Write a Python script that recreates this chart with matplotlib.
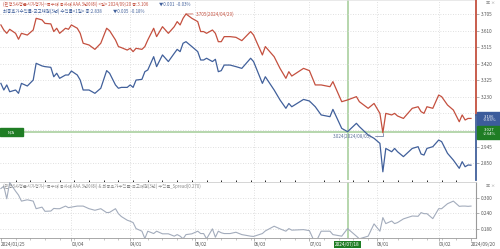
import matplotlib
matplotlib.use("Agg")
import matplotlib.pyplot as plt
from matplotlib.patches import Rectangle
from matplotlib.ticker import MultipleLocator
import numpy as np

plt.rcParams['font.family'] = ['Noto Sans CJK KR', 'DejaVu Sans']

# ---------------- data (trading-day index from 2024/01/25) ----------------
days = [0, 1, 2, 3, 5, 6, 7, 9, 11, 12, 14, 15, 17, 18, 19, 20, 22, 23, 24, 26,
        27, 28, 30, 32, 34, 36, 37, 39, 40, 41, 43, 44, 45, 46, 48, 49, 50, 52, 53, 55,
        57, 59, 60, 61, 62, 63, 65, 67, 68, 69, 70, 72, 73, 74, 75, 76, 78, 80, 82, 85,
        86, 89, 90, 93, 95, 97, 98, 99, 103, 105, 107, 109, 112, 113, 116, 118, 121, 122, 125, 127,
        129, 130, 131, 133, 134, 135, 137, 140, 142, 143, 144, 145, 147, 149, 150, 152, 154, 156, 157, 158,
        159, 160]
red = [3.642, 3.613, 3.594, 3.617, 3.594, 3.560, 3.594, 3.584, 3.613, 3.680, 3.671, 3.651, 3.648, 3.604, 3.623, 3.594, 3.623, 3.617, 3.642, 3.623,
       3.594, 3.537, 3.527, 3.502, 3.537, 3.623, 3.609, 3.556, 3.518, 3.512, 3.498, 3.508, 3.489, 3.508, 3.502, 3.518, 3.556, 3.623, 3.575, 3.632,
       3.594, 3.632, 3.661, 3.642, 3.680, 3.705, 3.680, 3.661, 3.604, 3.604, 3.594, 3.613, 3.594, 3.546, 3.546, 3.575, 3.575, 3.571, 3.552, 3.604,
       3.584, 3.470, 3.518, 3.460, 3.393, 3.336, 3.374, 3.349, 3.393, 3.380, 3.298, 3.298, 3.288, 3.317, 3.202, 3.212, 3.231, 3.202, 3.164, 3.192,
       3.135, 3.024, 3.135, 3.126, 3.135, 3.120, 3.106, 3.164, 3.173, 3.145, 3.135, 3.173, 3.164, 3.240, 3.231, 3.183, 3.154, 3.087, 3.126, 3.097,
       3.106, 3.106]
blue = [3.307, 3.269, 3.298, 3.259, 3.269, 3.250, 3.307, 3.292, 3.326, 3.422, 3.407, 3.403, 3.399, 3.345, 3.365, 3.336, 3.355, 3.355, 3.378, 3.355,
        3.326, 3.269, 3.269, 3.250, 3.279, 3.380, 3.365, 3.298, 3.279, 3.284, 3.284, 3.298, 3.284, 3.326, 3.330, 3.374, 3.384, 3.460, 3.403, 3.470,
        3.432, 3.479, 3.502, 3.489, 3.537, 3.546, 3.518, 3.489, 3.441, 3.441, 3.451, 3.432, 3.445, 3.374, 3.380, 3.412, 3.412, 3.403, 3.393, 3.451,
        3.432, 3.307, 3.345, 3.269, 3.212, 3.164, 3.192, 3.173, 3.215, 3.206, 3.173, 3.126, 3.116, 3.158, 3.049, 3.030, 3.078, 3.059, 3.011, 2.992,
        2.963, 2.800, 2.934, 2.915, 2.934, 2.915, 2.887, 2.934, 2.944, 2.902, 2.896, 2.934, 2.944, 2.982, 2.973, 2.906, 2.867, 2.820, 2.858, 2.829,
        2.839, 2.838]
spread = np.round(np.array(red) - np.array(blue), 3)

tick_days = [0, 24, 44, 66, 86, 105, 128, 149, 160]
tick_labels = ['2024/01/25', '03/04', '04/01', '05/02', '06/03', '07/01', '08/01', '09/02', '2024/09/20']
main_yticks = [3.705, 3.610, 3.515, 3.420, 3.325, 3.230, 3.135, 3.040, 2.945, 2.850]
hidden_ticks = [3.135, 3.040]   # covered by the value boxes in the reference
low_yticks = [0.300, 0.240, 0.180]

cross_day = 118
cross_label = '2024/07/18'
cross_val = 3.027
cross_pct = '-2.64%'
red_last, red_pct = 3.106, '-0.03%'
max_day, max_val, max_label = 63, 3.705, '3.705(2024/04/29)'
min_day, min_val, min_label = 130, 3.024, '3.024(2024/08/05)'

legend1 = '(민평3사평균시가평가)~특수채 공사채 AAA 3년이하) <일> 2024/09/20 종:3.106'
legend1b = '▼0.001  -0.03%'
legend2 = '최종호가수익률-국고채권(3년) 수익률<1일> 종:2.838'
legend2b = '▼0.005  -0.18%'
legend3 = '(민평3사평균시가평가)~특수채 공사채 AAA 3년이하) & 최종호가수익률-국고채권(3년) 수익률_Spread(0.270)'

# ---------------- style ----------------
RED = '#c4503f'
BLUE = '#41609b'
GRAY_LINE = '#a3acbc'
GRID = '#d6d6d6'
GREEN_L = '#b0d3a6'
GREEN_D = '#1f7d24'
BOX_BLUE = '#3c5c9c'
TXT = '#555555'

W, H = 500, 249
fig = plt.figure(figsize=(W / 100, H / 100), dpi=100)
fig.patch.set_facecolor('white')


def fy(px):
    return 1 - px / H


right_px = 476
ax = fig.add_axes([0.0, fy(180), right_px / W, 180 / H])
ax2 = fig.add_axes([0.0, fy(238), right_px / W, (238 - 182) / H], sharex=ax)

# ---------------- main panel ----------------
ax.set_xlim(-0.3, 161.7)
ax.set_ylim(2.753, 3.785)
ax.grid(axis='y', ls=(0, (1, 2)), color=GRID, lw=0.6)
for d in tick_days[1:-1]:
    ax.axvline(d, ls=(0, (1, 2)), color=GRID, lw=0.6, zorder=0.5)
ax.axhline(cross_val, color=GREEN_L, lw=1.3, zorder=1)
ax.axvline(cross_day, color=GREEN_L, lw=1.3, zorder=1)
ax.plot(days, red, color=RED, lw=0.9, zorder=3)
ax.plot(days, blue, color=BLUE, lw=0.9, zorder=3)

ax.yaxis.tick_right()
ax.set_yticks(main_yticks)
ax.set_yticklabels(['' if v in hidden_ticks else '%.3f' % v for v in main_yticks])
ax.tick_params(axis='y', labelsize=3.4, labelcolor=TXT, length=2, width=0.4, color='#777777', pad=1.5)
ax.tick_params(axis='x', length=0, labelbottom=False)
for s in ['left', 'bottom', 'right']:
    ax.spines[s].set_visible(False)
ax.spines['top'].set_color('#e0e0e0')
ax.spines['top'].set_linewidth(0.5)
split = (180 - 115) / 180
ax.plot([1, 1], [split, 1], transform=ax.transAxes, color=RED, lw=1.3, clip_on=False, zorder=4)
ax.plot([1, 1], [0, split], transform=ax.transAxes, color=BLUE, lw=1.3, clip_on=False, zorder=4)

# max / min annotations
ax.annotate(max_label, xy=(max_day, max_val), xytext=(7, 0), textcoords='offset points',
            ha='left', va='center', fontsize=3.3, color=RED,
            arrowprops=dict(arrowstyle='-', color=RED, lw=0.5, shrinkA=0, shrinkB=0))
ax.annotate(min_label, xy=(min_day, min_val), xytext=(-8, -2.5), textcoords='offset points',
            ha='right', va='center', fontsize=3.3, color='#5b6f98',
            arrowprops=dict(arrowstyle='-', color='#5b6f98', lw=0.5, shrinkA=0, shrinkB=0,
                            connectionstyle='angle,angleA=0,angleB=90,rad=0'))

# value boxes on right axis
ytr = ax.get_yaxis_transform()
bh = 13 * (3.785 - 2.753) / 180
bw = 24 / right_px
ax.add_patch(Rectangle((1.003, red_last - bh / 2), bw, bh, transform=ytr, color=BOX_BLUE,
                       clip_on=False, zorder=6))
ax.text(1.003 + bw / 2, red_last, '%.3f\n%s' % (red_last, red_pct), transform=ytr, ha='center',
        va='center', fontsize=3.0, color='white', linespacing=0.95, zorder=7, clip_on=False)
ax.add_patch(Rectangle((1.003, cross_val - bh / 2), bw, bh, transform=ytr, color=GREEN_D,
                       clip_on=False, zorder=6))
ax.text(1.003 + bw / 2, cross_val, '%.3f\n%s' % (cross_val, cross_pct), transform=ytr, ha='center',
        va='center', fontsize=3.0, color='white', linespacing=0.95, zorder=7, clip_on=False)
# N/A box at left
nh = 8 * (3.785 - 2.753) / 180
ax.add_patch(Rectangle((0.0, cross_val - nh / 2), 23 / right_px, nh, transform=ytr, color=GREEN_D,
                       clip_on=False, zorder=6))
ax.text(11.5 / right_px, cross_val, 'N/A', transform=ytr, ha='center', va='center', fontsize=3.0,
        color='white', zorder=7)

# ---------------- lower panel ----------------
ax2.set_ylim(0.146, 0.36)
ax2.grid(axis='y', ls=(0, (1, 2)), color=GRID, lw=0.6)
for d in tick_days[1:-1]:
    ax2.axvline(d, ls=(0, (1, 2)), color=GRID, lw=0.6, zorder=0.5)
ax2.axvline(cross_day, color=GREEN_L, lw=1.3, zorder=1)
ax2.plot(days, spread, color=GRAY_LINE, lw=0.8, zorder=3)
ax2.yaxis.tick_right()
ax2.set_yticks(low_yticks)
ax2.set_yticklabels(['%.3f' % v for v in low_yticks])
ax2.tick_params(axis='y', labelsize=3.4, labelcolor=TXT, length=2, width=0.4, color='#777777', pad=1.5)
ax2.spines['left'].set_visible(False)
ax2.spines['top'].set_color('#cfcfcf')
ax2.spines['top'].set_linewidth(0.6)
ax2.spines['right'].set_color('#9a9a9a')
ax2.spines['right'].set_linewidth(0.8)
ax2.spines['bottom'].set_color('#9a9a9a')
ax2.spines['bottom'].set_linewidth(0.6)

ax2.set_xticks(tick_days)
ax2.set_xticklabels(tick_labels)
ax2.xaxis.set_minor_locator(MultipleLocator(5))
ax2.tick_params(axis='x', which='major', labelsize=3.4, labelcolor=TXT, length=2, width=0.4,
                color='#777777', pad=1.2)
ax2.tick_params(axis='x', which='minor', length=1.2, width=0.4, color='#999999')
for lbl in ax2.get_xticklabels():
    lbl.set_ha('left')
ax2.text(cross_day, -0.115, cross_label, transform=ax2.get_xaxis_transform(), ha='center',
         va='center', fontsize=3.4, color='white', zorder=8, clip_on=False,
         bbox=dict(boxstyle='square,pad=0.25', facecolor=GREEN_D, edgecolor='none'))

# ---------------- legend texts ----------------
t1 = fig.text(3 / W, fy(4.5), legend1, fontsize=3.1, color=RED, ha='left', va='center')
ax.annotate(legend1b, xy=(1, 0.5), xycoords=t1, xytext=(8, 0), textcoords='offset points',
            fontsize=3.1, color=BLUE, ha='left', va='center', annotation_clip=False)
t2 = fig.text(3 / W, fy(11.5), legend2, fontsize=3.2, color=BLUE, ha='left', va='center')
ax.annotate(legend2b, xy=(1, 0.5), xycoords=t2, xytext=(8, 0), textcoords='offset points',
            fontsize=3.1, color=BLUE, ha='left', va='center', annotation_clip=False)
fig.text(3 / W, fy(186.5), legend3, fontsize=3.1, color='#8a8a8a', ha='left', va='center')

fig.text(486 / W, fy(3.5), '▣ ×', fontsize=3, color='#888888', ha='left', va='center')
fig.text(486 / W, fy(186), '▣ ×', fontsize=3, color='#888888', ha='left', va='center')

fig.savefig('out.png', dpi=100, facecolor='white')
